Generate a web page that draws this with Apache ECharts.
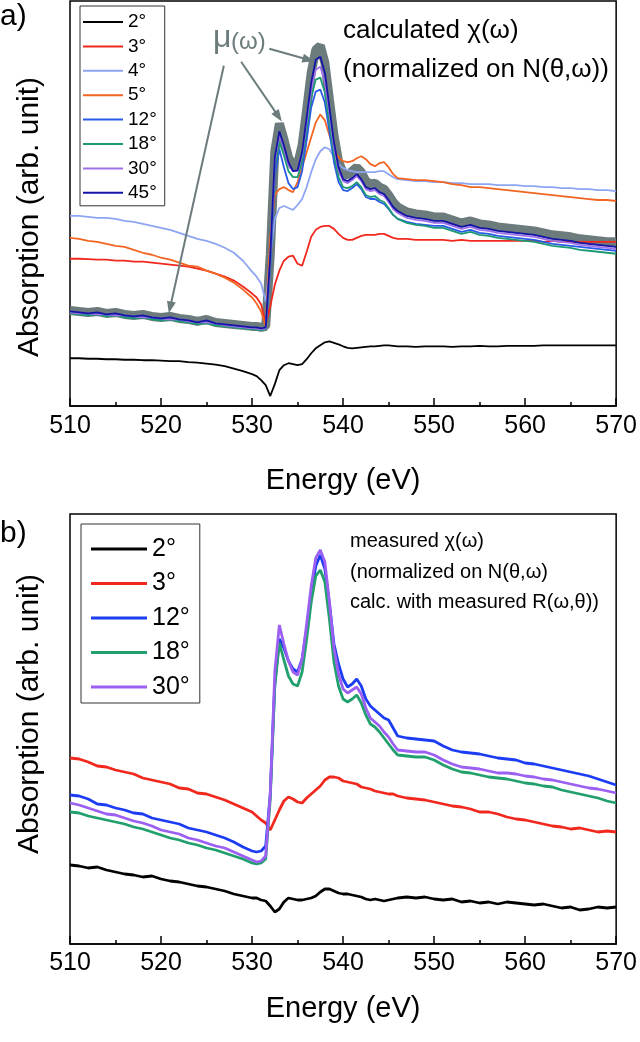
<!DOCTYPE html>
<html><head><meta charset="utf-8">
<script src="https://cdn.jsdelivr.net/npm/echarts@6/dist/echarts.min.js"></script>
<style>
html,body{margin:0;padding:0;background:#fff;width:640px;height:1042px;overflow:hidden}
#ca{position:absolute;left:0;top:0;width:640px;height:500px}
#cb{position:absolute;left:0;top:500px;width:640px;height:542px}
</style>
</head><body><div id="ca"></div><div id="cb"></div>
<script>
// ---- Energy grid (eV) ----
const energy = [510,511,512,513,514,515,516,517,518,519,520,521,522,523,524,525,526,527,528,529,530,
  530.5,531,531.5,532,532.5,533,533.5,534,534.5,535,535.5,536,536.5,537,537.5,538,538.5,539,539.5,540,540.5,541,541.5,542,542.5,543,543.5,544,544.5,545,545.5,546,
  547,548,549,550,551,552,553,554,555,556,557,558,559,560,561,562,563,564,565,566,567,568,569,570];
const xTicks = [510,520,530,540,550,560,570];

// ---- Panel a: calculated chi(omega) (arb. units) ----
const a2 = [48,48,47.5,47.5,47,47,46.5,46.5,46,46,45.5,45,45,44,43.5,42.5,41.5,40,37.5,35,32,
  30,26,21,10,22,36,41,43,42,41,42,47,53,58,61,64,65,63.5,62,60,58.5,58,58.5,59,59.5,60,60,60.5,61,61,60.5,60,
  60,59.5,60,60,60,59.5,60,60,60.5,60,60,60.5,60.5,60.5,60.5,61,61,61,61,61,61,61,61,61];
const a3 = [148,148,147.5,147,147,146,146,145,145,144,143,142,141,140,138,136,133,130,126,120,113,
  109,102,82,100,122,136,146,150,151,143,141,155,170,177,180,181,181,178,173,169,167,167,169,171,172,172,172,173,173,171,169,168,
  168,167,167,167,167,166,167,166,166,166,166,166,166,166,166,165,166,165,165,165,165,165,165,165];
const a4 = [191,191,190,189,189,188,186,185,183,181,179,177,174,171,168,166,163,159,154,146,135,
  130,123,105,150,188,199,201,199,197,202,208,220,235,248,256,260,258,250,243,239,237,236,235,235,235,235,235,236,236,233,230,228,
  227,226,226,225,225,224,224,223,223,223,222,222,222,221,221,220,220,219,219,218,218,217,217,216];
const a5 = [169,168,166,165,163,161,160,157,154,152,149,147,144,141,140,136,133,129,124,117,109,
  103,95,80,170,212,218,220,217,215,225,240,255,270,285,293,287,272,258,250,246,245,246,249,251,248,243,241,244,245,240,233,229,
  228,227,227,226,225,223,222,220,220,219,218,217,216,215,214,213,212,211,210,209,208,207,207,206];
const a12 = [94,93,92,92,91,91,90,89,89,88,87,87,86,85,84,84,82,81,80,79,78,
  78,77,78,140,232,258,240,224,218,220,236,268,300,316,318,305,276,245,225,217,216,219,223,218,210,208,208,205,203,198,192,188,
  185,183,182,181,181,178,175,177,174,173,171,170,169,168,167,165,163,162,161,160,159,158,157,156];
const a18 = [93,92,91,92,90,91,89,88,89,87,86,87,85,84,82,83,81,80,79,78,77,
  77,76,77,145,240,265,252,236,230,230,246,278,310,328,330,315,284,252,230,220,219,221,225,220,212,210,211,207,205,199,192,188,
  184,182,181,179,179,176,173,175,172,171,169,168,167,166,165,163,161,160,159,157,156,155,154,153];
const a30 = [94,93,93,92,92,91,91,90,89,89,88,87,87,85,84,84,83,81,80,79,78,
  78,77,78,148,246,273,259,242,236,236,252,285,318,338,341,326,294,260,237,226,224,227,231,226,218,216,217,213,211,205,198,194,
  189,187,186,184,184,181,178,180,177,176,174,173,172,171,170,168,166,165,164,162,161,160,159,158];
const a45 = [95,94,93,94,92,93,91,90,91,89,88,89,87,86,84,86,83,82,81,80,79,
  79,78,79,150,250,276,262,245,236,237,255,290,325,348,351,335,300,265,240,228,226,229,233,228,220,218,219,215,213,207,200,196,
  191,189,188,186,186,183,180,182,179,178,176,175,174,173,172,170,168,167,166,164,163,162,161,160];
const aMu = [96,95,94,95,93,94,92,91,92,90,89,90,88,87,85,87,84,83,82,81,80,
  80,79,80,152,256,284,268,250,241,243,262,298,335,358,362,345,308,272,246,234,232,236,240,235,226,223,224,220,218,212,205,200,
  195,193,192,190,190,187,184,186,183,182,180,179,178,177,176,174,172,171,170,168,167,166,165,165];
const aNames = ['2°','3°','4°','5°','12°','18°','30°','45°'];

// ---- Panel b: measured chi(omega) (arb. units) ----
const b2 = [79,78,76,77,74,72,70,69,67,68,65,63,62,60,58,57,55,53,50,48,46,
  46,44,43,38,32,35,42,46,45,44,44,45,46,48,52,55,55,53,51,50,50,49,48,47,45,44,45,44,43,44,45,46,
  47,46,47,45,44,45,42,43,41,42,40,42,41,40,39,40,38,36,37,34,35,37,36,37];
const b3 = [186,185,182,178,177,174,172,170,166,164,162,160,156,155,151,150,147,144,140,136,132,
  128,124,121,114,124,134,143,147,145,142,141,146,150,154,158,164,167,167,166,163,162,161,160,157,156,155,153,152,151,150,150,148,
  146,145,144,142,140,138,137,135,132,132,130,127,125,124,122,120,118,117,115,116,114,112,113,112];
const b12 = [149,148,145,140,139,136,134,131,130,126,124,122,120,116,114,112,109,106,102,97,93,
  92,93,98,150,260,305,296,283,275,272,285,315,350,378,389,375,340,300,280,265,257,260,265,258,245,238,234,230,226,224,216,208,
  206,205,204,203,198,194,192,191,190,188,186,185,184,181,180,178,176,174,172,170,168,165,162,159];
const b18 = [132,131,128,126,124,122,120,117,115,112,109,106,104,101,99,96,94,91,88,85,81,
  80,81,85,145,258,301,284,268,260,258,272,305,342,368,374,362,325,282,258,245,242,245,249,241,229,220,217,212,206,200,194,189,
  188,187,187,184,179,175,172,171,169,167,166,165,163,161,160,158,157,154,152,150,148,146,143,141];
const b30 = [141,139,136,133,130,129,126,123,121,118,114,112,110,106,104,101,98,96,92,88,84,
  82,83,88,150,272,319,300,283,272,269,285,320,358,386,394,382,342,296,270,255,251,254,257,250,236,226,222,218,212,207,200,194,
  193,192,192,189,184,180,177,176,175,173,171,171,170,168,167,165,164,162,160,158,156,155,153,151];
const bNames = ['2°','3°','12°','18°','30°'];

// ---- Styling ----
const FONT = "'Liberation Sans', Arial, Helvetica, sans-serif";
const GREY = '#6c7b7c';
function pairs(ys){ return energy.map((e,i)=>[e, ys[i]]); }
function lineSeries(name, ys, color, width, extra){
  return Object.assign({
    type:'line', name:name, data:pairs(ys), showSymbol:false, symbol:'none',
    itemStyle:{color:color}, lineStyle:{color:color, width:width},
    animation:false, silent:true
  }, extra||{});
}
function xAxisCfg(nameGap, margin){
  return {
    type:'value', min:510, max:570, interval:10,
    axisLine:{show:true, onZero:false, lineStyle:{color:'#000', width:1.5}},
    axisTick:{show:true, inside:true, length:8, lineStyle:{color:'#000', width:1.5}},
    minorTick:{show:true, splitNumber:2, length:4, lineStyle:{color:'#000', width:1.5}},
    splitLine:{show:false}, minorSplitLine:{show:false},
    axisLabel:{fontSize:25, lineHeight:25, color:'#000', fontFamily:FONT, margin:margin,
      formatter:(v)=> xTicks.indexOf(v)>=0 ? String(v) : ''},
    name:'Energy (eV)', nameLocation:'middle', nameGap:nameGap,
    nameTextStyle:{fontSize:29, lineHeight:29, color:'#000', fontFamily:FONT}
  };
}
function yAxisCfg(max){
  return {type:'value', min:0, max:max, axisLine:{show:false}, axisTick:{show:false},
    axisLabel:{show:false}, splitLine:{show:false}};
}
function txt(x,y,text,size,extra){
  return {type:'text', x:x, y:y, silent:true, style:Object.assign({
    text:text, fontSize:size, fontFamily:FONT, fill:'#000', align:'left', verticalAlign:'middle'}, extra||{})};
}

// ---- Chart a ----
const ca = echarts.init(document.getElementById('ca'));
const aColors = ['#000000','#f0281e','#8ea6f2','#f26522','#2a5ae8','#1c9a73','#a070e8','#1414a8'];
const aData = [a2,a3,a4,a5,a12,a18,a30,a45];
const aSeries = [lineSeries('μ(ω)', aMu, GREY, 9, {
  markLine:{silent:true, animation:false, symbol:['none','triangle'], symbolSize:[9,12],
    lineStyle:{color:GREY, width:2, type:'solid'}, label:{show:false},
    data:[
      [{coord:[531.9,359]},{coord:[536.2,348]}],
      [{coord:[528.8,346]},{coord:[532.9,291]}],
      [{coord:[526.9,342]},{coord:[521.0,99]}]
    ]}
})];
aNames.forEach((n,i)=>aSeries.push(lineSeries(n, aData[i], aColors[i], 1.8)));
ca.setOption({
  animation:false,
  grid:{left:70, right:21, top:1, height:407, show:true, borderColor:'#000', borderWidth:1.5},
  xAxis:xAxisCfg(60, 8),
  yAxis:yAxisCfg(407),
  legend:{left:80, top:6, orient:'vertical', data:aNames, icon:'rect', itemWidth:40, itemHeight:2,
    itemGap:4.4, padding:[6,8,3,3], borderColor:'#333', borderWidth:1, selectedMode:false,
    textStyle:{fontSize:19, lineHeight:20, fontFamily:FONT, color:'#000'}},
  graphic:[
    txt(0,17,'a)',30),
    {type:'text', x:30, y:217, rotation:Math.PI/2, silent:true,
      style:{text:'Absorption (arb. unit)', fontSize:30, fontFamily:FONT, fill:'#000', align:'center', verticalAlign:'middle'}},
    txt(343,31,'calculated χ(ω)',26),
    txt(343,70,'(normalized on N(θ,ω))',26),
    txt(213,38,'μ',32,{fill:GREY}),
    txt(231,42,'(ω)',24,{fill:GREY})
  ],
  series:aSeries
});

// ---- Chart b ----
const cb = echarts.init(document.getElementById('cb'));
const bColors = ['#000000','#f0281e','#1b3cf2','#21a06e','#9b5ff2'];
const bData = [b2,b3,b12,b18,b30];
const bSeries = bNames.map((n,i)=>lineSeries(n, bData[i], bColors[i], 2.8));
cb.setOption({
  animation:false,
  grid:{left:70, right:20, top:14, height:430, show:true, borderColor:'#000', borderWidth:1.5},
  xAxis:xAxisCfg(50, 7),
  yAxis:yAxisCfg(430),
  legend:{left:81, top:24, orient:'vertical', data:bNames, icon:'rect', itemWidth:56, itemHeight:3,
    itemGap:8.5, padding:[12,10,3,10], borderColor:'#333', borderWidth:1, selectedMode:false,
    textStyle:{fontSize:25, lineHeight:26, fontFamily:FONT, color:'#000'}},
  graphic:[
    txt(0,34,'b)',30),
    {type:'text', x:30, y:214, rotation:Math.PI/2, silent:true,
      style:{text:'Absorption (arb. unit)', fontSize:30, fontFamily:FONT, fill:'#000', align:'center', verticalAlign:'middle'}},
    txt(350,41,'measured χ(ω)',20),
    txt(350,72,'(normalized on N(θ,ω)',20),
    txt(350,102,'calc. with measured R(ω,θ))',20)
  ],
  series:bSeries
});
</script>
</body></html>
